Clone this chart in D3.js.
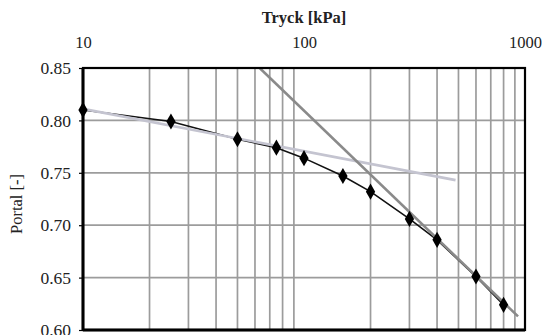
<!DOCTYPE html>
<html>
<head>
<meta charset="utf-8">
<script src="https://cdn.jsdelivr.net/npm/d3@7"></script>
<style>
  html, body { margin: 0; padding: 0; background: #fff; }
  svg { display: block; }
  text { font-family: "Liberation Serif", "Times New Roman", serif; fill: #222; }
</style>
</head>
<body>
<svg id="chart" width="545" height="335"></svg>
<script>
// Oedometer test: void ratio (portal) against pressure (tryck), log scale
const pressure = [10, 25, 50, 75, 100, 150, 200, 300, 400, 600, 800];
const voidRatio = [0.810, 0.799, 0.782, 0.774, 0.764, 0.747, 0.732, 0.706, 0.686, 0.651, 0.624];

// Fitted tangent lines (end points: [pressure, void ratio])
const recompressionLine = [[10, 0.811], [485, 0.743]];
const virginLine = [[63, 0.85], [930, 0.613]];

const xTicks = [10, 100, 1000];
const yTicks = [0.60, 0.65, 0.70, 0.75, 0.80, 0.85];
const xGrid = [20, 30, 40, 50, 60, 70, 80, 90, 200, 300, 400, 500, 600, 700, 800, 900];

const xTitle = "Tryck [kPa]";
const yTitle = "Portal [-]";

const margin = { left: 83, right: 20, top: 68, bottom: 5 };
const W = 545, H = 335;
const svg = d3.select("#chart");

const x = d3.scaleLog().domain([10, 1000]).range([margin.left, W - margin.right]);
const y = d3.scaleLinear().domain([0.60, 0.85]).range([H - margin.bottom, margin.top]);

// grid
const grid = svg.append("g").attr("stroke", "#9c9c9c").attr("stroke-width", 1.7);
grid.selectAll("line.v").data(xGrid).join("line")
  .attr("x1", d => x(d)).attr("x2", d => x(d))
  .attr("y1", y(0.85)).attr("y2", y(0.60));
grid.selectAll("line.h").data(yTicks.slice(1, -1)).join("line")
  .attr("x1", x(10)).attr("x2", x(1000))
  .attr("y1", d => y(d)).attr("y2", d => y(d));

// clip to plot area
svg.append("clipPath").attr("id", "plot").append("rect")
  .attr("x", x(10)).attr("y", y(0.85))
  .attr("width", x(1000) - x(10)).attr("height", y(0.60) - y(0.85));

const line = d3.line().x(d => x(d[0])).y(d => y(d[1]));

const plot = svg.append("g").attr("clip-path", "url(#plot)");

// data curve
plot.append("path").datum(pressure.map((p, i) => [p, voidRatio[i]]))
  .attr("d", line).attr("fill", "none")
  .attr("stroke", "#111").attr("stroke-width", 1.6);

plot.append("path").datum(recompressionLine)
  .attr("d", line).attr("fill", "none")
  .attr("stroke", "#c4c4d0").attr("stroke-width", 2.6);

plot.append("path").datum(virginLine)
  .attr("d", line).attr("fill", "none")
  .attr("stroke", "#8a8a8a").attr("stroke-width", 2.6);

// markers
svg.append("g").selectAll("path").data(pressure.map((p, i) => [p, voidRatio[i]])).join("path")
  .attr("transform", d => `translate(${x(d[0])},${y(d[1])})`)
  .attr("d", d3.symbol().type(d3.symbolDiamond).size(75))
  .attr("fill", "#000");

// frame
const frame = svg.append("g").attr("stroke", "#000").attr("fill", "none");
frame.append("rect")
  .attr("x", x(10)).attr("y", y(0.85))
  .attr("width", x(1000) - x(10)).attr("height", y(0.60) - y(0.85))
  .attr("stroke-width", 2.2);
frame.append("line").attr("x1", x(10)).attr("x2", x(10))
  .attr("y1", y(0.85)).attr("y2", y(0.60)).attr("stroke-width", 3);
frame.append("line").attr("x1", x(10)).attr("x2", x(1000))
  .attr("y1", y(0.60)).attr("y2", y(0.60)).attr("stroke-width", 3);

const serif = '"Liberation Serif", "Times New Roman", serif';

// y axis
const yAxis = d3.axisLeft(y).tickValues(yTicks).tickFormat(d3.format(".2f")).tickSize(4).tickPadding(8);
const gy = svg.append("g").attr("transform", `translate(${x(10)},0)`).call(yAxis);
gy.attr("font-family", serif);
gy.select(".domain").remove();
gy.selectAll("line").attr("stroke", "#000").attr("stroke-width", 1.2);
gy.selectAll("text").style("font-family", serif).style("font-size", "17.5px").attr("fill", "#333");

// top x axis
const xAxis = d3.axisTop(x).tickValues(xTicks).tickFormat(d3.format("d")).tickSize(0).tickPadding(20);
const gx = svg.append("g").attr("transform", `translate(0,${y(0.85)})`).call(xAxis);
gx.attr("font-family", serif);
gx.select(".domain").remove();
gx.selectAll("text").style("font-family", serif).style("font-size", "16.5px").attr("fill", "#333");

// titles
svg.append("text").attr("x", x(100)).attr("y", 23)
  .attr("text-anchor", "middle").style("font-family", serif)
  .style("font-weight", "bold").style("font-size", "16.5px")
  .attr("fill", "#222").text(xTitle);
svg.append("text").attr("transform", `translate(22,204) rotate(-90)`)
  .attr("text-anchor", "middle").style("font-family", serif)
  .style("font-size", "16.5px").attr("fill", "#333").text(yTitle);
</script>
</body>
</html>
